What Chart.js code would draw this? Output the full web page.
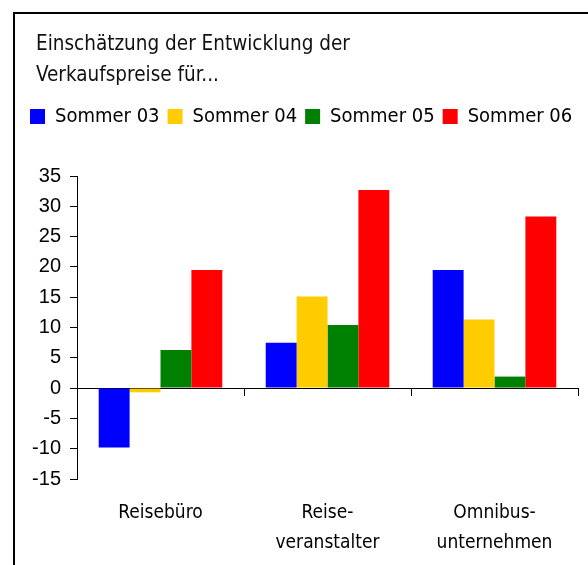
<!DOCTYPE html>
<html>
<head>
<meta charset="utf-8">
<script src="https://cdn.jsdelivr.net/npm/chart.js@4/dist/chart.umd.min.js"></script>
<style>
  html, body { margin: 0; padding: 0; background: #fff; overflow: hidden; }
  #wrap { width: 588px; height: 565px; position: relative; }
</style>
</head>
<body>
<div id="wrap"><canvas id="c" width="588" height="565"></canvas></div>
<script>
const titleLines = ['Einschätzung der Entwicklung der', 'Verkaufspreise für...'];
const categories = ['Reisebüro', ['Reise-', 'veranstalter'], ['Omnibus-', 'unternehmen']];
const seriesNames = ['Sommer 03', 'Sommer 04', 'Sommer 05', 'Sommer 06'];
const sommer03 = [-9.8, 7.5, 19.5];
const sommer04 = [-0.7, 15.1, 11.3];
const sommer05 = [6.3, 10.4, 1.9];
const sommer06 = [19.5, 32.7, 28.3];
const seriesColors = ['#0000FF', '#FFCC00', '#008000', '#FF0000'];
const yMin = -15, yMax = 35, yStep = 5;

const narrow = "'DejaVu Sans Condensed', 'Liberation Sans Narrow', sans-serif";
const regular = "'Liberation Sans', Arial, sans-serif";

const framePlugin = {
  id: 'frame',
  afterLayout(chart) {
    if (chart.titleBlock) {
      const w = chart.titleBlock.right - chart.titleBlock.left;
      chart.titleBlock.left = 36;
      chart.titleBlock.right = 36 + w;
    }
  },
  afterDraw(chart) {
    const ctx = chart.ctx;
    ctx.save();
    ctx.fillStyle = '#000';
    ctx.fillRect(13, 12, 2, 560);
    ctx.fillRect(13, 12, 580, 2);
    ctx.restore();
  }
};

const allSeries = [sommer03, sommer04, sommer05, sommer06];
new Chart(document.getElementById('c'), {
  type: 'bar',
  data: {
    labels: categories,
    datasets: allSeries.map((d, i) => ({
      label: seriesNames[i],
      data: d,
      backgroundColor: seriesColors[i],
      borderWidth: 0,
      barPercentage: 1,
      categoryPercentage: 0.74,
      xAxisID: 'x',
      yAxisID: 'y'
    }))
  },
  options: {
    responsive: false,
    animation: false,
    devicePixelRatio: 1,
    layout: { padding: { left: 22, right: 0, top: 20, bottom: 0 } },
    plugins: {
      title: {
        display: true,
        text: titleLines,
        align: 'start',
        color: '#111',
        font: { family: narrow, size: 20.5, weight: 'normal', lineHeight: 31 / 20.5 },
        padding: { top: 9.5, bottom: 7 }
      },
      legend: {
        display: true,
        align: 'start',
        weight: 1800,
        labels: {
          color: '#000',
          font: { family: narrow, size: 20 },
          boxWidth: 15,
          boxHeight: 15,
          padding: 8
        }
      },
      subtitle: {
        display: true,
        text: ' ',
        font: { size: 10, lineHeight: 1 },
        padding: { top: 0, bottom: 29.5 }
      },
      tooltip: { enabled: false }
    },
    scales: {
      x: {
        type: 'category',
        position: { y: 0 },
        offset: true,
        grid: { display: true, drawOnChartArea: false, drawTicks: true, tickLength: 7, color: '#000', offset: true },
        border: { display: true, color: '#000', width: 1 },
        ticks: { display: false }
      },
      x2: {
        type: 'category',
        position: 'bottom',
        offset: true,
        grid: { display: false, drawTicks: false },
        border: { display: false },
        ticks: { color: '#000', font: { family: narrow, size: 19, lineHeight: 30 / 19 }, padding: 19, maxRotation: 0, autoSkip: false },
        afterFit: (s) => { s.height = 86; }
      },
      y: {
        min: yMin,
        max: yMax,
        ticks: { stepSize: yStep, color: '#000', font: { family: regular, size: 20 }, padding: 9 },
        grid: { display: true, drawOnChartArea: false, drawTicks: true, tickLength: 7, color: '#000' },
        border: { display: true, color: '#000', width: 1 },
        afterFit: (s) => { s.width = 55; }
      },
      yR: {
        type: 'linear',
        position: 'right',
        display: true,
        grid: { display: false, drawTicks: false },
        border: { display: false },
        ticks: { display: false },
        afterFit: (s) => { s.width = 10; }
      }
    }
  },
  plugins: [framePlugin]
});
</script>
</body>
</html>
